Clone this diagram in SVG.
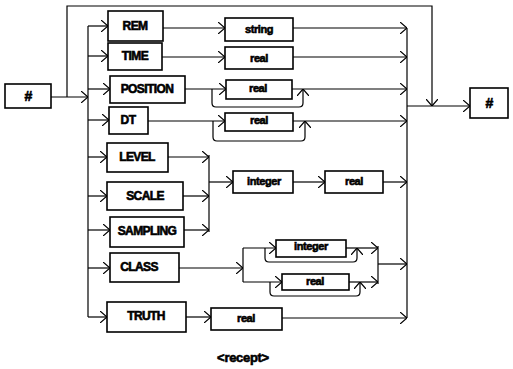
<svg xmlns="http://www.w3.org/2000/svg" width="513" height="369" viewBox="0 0 513 369">
<style>
.b{fill:#fff;stroke:#000;stroke-width:1.6}
.c path{fill:none;stroke:#000;stroke-width:1.2}
.t{font-family:"Liberation Sans",Arial,sans-serif;font-weight:bold;font-size:12px;letter-spacing:-0.6px;text-anchor:middle;dominant-baseline:central;fill:#000;stroke:#000;stroke-width:0.6px}
.s{font-size:11px;letter-spacing:-0.4px}
.h{font-size:14px}
.cap{font-size:13px;letter-spacing:-0.3px}
</style>
<defs>
<marker id="a" viewBox="0 0 7 12" refX="7" refY="6" markerWidth="7" markerHeight="12" markerUnits="userSpaceOnUse" orient="auto">
<path d="M0,0 L7,6 L0,12" fill="none" stroke="#000" stroke-width="1.2"/>
</marker>
</defs>
<rect width="513" height="369" fill="#fff"/>
<g class="c" id="connectors">
<path d="M51,97 H88" marker-end="url(#a)"/>
<path d="M67,97 V6 H432 V106" marker-end="url(#a)"/>
<path d="M88,26 V317"/>
<path d="M88,26 H108" marker-end="url(#a)"/>
<path d="M88,56 H108" marker-end="url(#a)"/>
<path d="M88,89 H110" marker-end="url(#a)"/>
<path d="M88,120 H109" marker-end="url(#a)"/>
<path d="M88,157 H107" marker-end="url(#a)"/>
<path d="M88,196 H107" marker-end="url(#a)"/>
<path d="M88,230 H110" marker-end="url(#a)"/>
<path d="M88,268 H110" marker-end="url(#a)"/>
<path d="M88,317 H107" marker-end="url(#a)"/>
<path d="M163,28 H225" marker-end="url(#a)"/>
<path d="M293,28 H407" marker-end="url(#a)"/>
<path d="M162,57 H225" marker-end="url(#a)"/>
<path d="M293,57 H407" marker-end="url(#a)"/>
<path d="M185,89 H226" marker-end="url(#a)"/>
<path d="M292,89 H407" marker-end="url(#a)"/>
<path d="M212,89 V103 Q212,107 216,107 H299 Q303,107 303,103 V89" marker-end="url(#a)"/>
<path d="M148,121 H225" marker-end="url(#a)"/>
<path d="M293,121 H407" marker-end="url(#a)"/>
<path d="M213,121 V137 Q213,141 217,141 H301 Q305,141 305,137 V121" marker-end="url(#a)"/>
<path d="M168,157 H209" marker-end="url(#a)"/>
<path d="M183,196 H209" marker-end="url(#a)"/>
<path d="M184,230 H209" marker-end="url(#a)"/>
<path d="M209,155 V232"/>
<path d="M209,182 H233" marker-end="url(#a)"/>
<path d="M293,182 H325" marker-end="url(#a)"/>
<path d="M383,182 H407" marker-end="url(#a)"/>
<path d="M179,268 H243" marker-end="url(#a)"/>
<path d="M243,248 V282"/>
<path d="M243,248 H276" marker-end="url(#a)"/>
<path d="M243,282 H282" marker-end="url(#a)"/>
<path d="M265,248 V258 Q265,262 269,262 H353 Q357,262 357,258 V248" marker-end="url(#a)"/>
<path d="M270,282 V292 Q270,296 274,296 H356 Q360,296 360,292 V282" marker-end="url(#a)"/>
<path d="M346,248 H378" marker-end="url(#a)"/>
<path d="M349,282 H378" marker-end="url(#a)"/>
<path d="M378,246 V284"/>
<path d="M378,264 H407" marker-end="url(#a)"/>
<path d="M186,317 H211" marker-end="url(#a)"/>
<path d="M282,318 H407" marker-end="url(#a)"/>
<path d="M407,28 V318"/>
<path d="M407,106 H470" marker-end="url(#a)"/>
</g>
<g id="start"><rect class="b" x="5" y="84" width="46" height="24"/><text class="t h" x="28" y="96">#</text></g>
<g id="end"><rect class="b" x="470" y="88" width="38" height="30"/><text class="t h" x="489" y="103">#</text></g>
<g id="rem"><rect class="b" x="108" y="11" width="55" height="30"/><text class="t" x="135" y="26">REM</text></g>
<g id="time"><rect class="b" x="108" y="43" width="54" height="27"/><text class="t" x="135" y="56">TIME</text></g>
<g id="position"><rect class="b" x="110" y="76" width="75" height="27"/><text class="t" x="147" y="89">POSITION</text></g>
<g id="dt"><rect class="b" x="109" y="107" width="39" height="27"/><text class="t" x="128" y="120">DT</text></g>
<g id="level"><rect class="b" x="107" y="143" width="61" height="29"/><text class="t" x="137" y="157">LEVEL</text></g>
<g id="scale"><rect class="b" x="107" y="182" width="76" height="28"/><text class="t" x="145" y="196">SCALE</text></g>
<g id="sampling"><rect class="b" x="110" y="217" width="74" height="30"/><text class="t" x="147" y="231">SAMPLING</text></g>
<g id="class"><rect class="b" x="110" y="253" width="69" height="29"/><text class="t" x="139" y="267">CLASS</text></g>
<g id="truth"><rect class="b" x="107" y="302" width="79" height="30"/><text class="t" x="146" y="316">TRUTH</text></g>
<g id="rem-string"><rect class="b" x="225" y="18" width="68" height="23"/><text class="t s" x="259" y="29">string</text></g>
<g id="time-real"><rect class="b" x="225" y="47" width="68" height="22"/><text class="t s" x="259" y="58">real</text></g>
<g id="position-real"><rect class="b" x="226" y="80" width="66" height="19"/><text class="t s" x="258" y="88">real</text></g>
<g id="dt-real"><rect class="b" x="225" y="113" width="68" height="18"/><text class="t s" x="259" y="120">real</text></g>
<g id="scale-integer"><rect class="b" x="233" y="171" width="60" height="22"/><text class="t s" x="264" y="181">integer</text></g>
<g id="scale-real"><rect class="b" x="325" y="171" width="58" height="22"/><text class="t s" x="354" y="181">real</text></g>
<g id="class-integer"><rect class="b" x="276" y="240" width="70" height="17"/><text class="t s" x="311" y="246">integer</text></g>
<g id="class-real"><rect class="b" x="282" y="274" width="67" height="16"/><text class="t s" x="315" y="281">real</text></g>
<g id="truth-real"><rect class="b" x="211" y="308" width="71" height="22"/><text class="t s" x="246" y="318">real</text></g>
<text class="t cap" x="243" y="357">&lt;recept&gt;</text>
</svg>
